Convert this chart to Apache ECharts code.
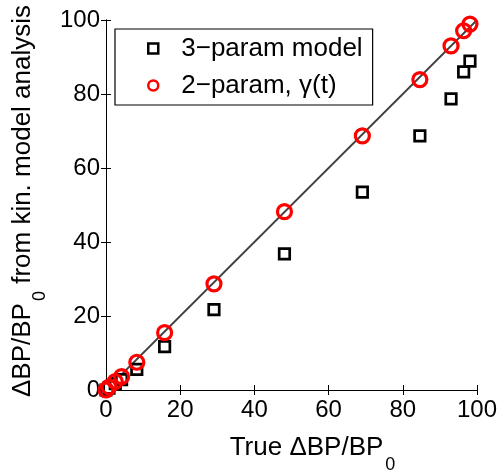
<!DOCTYPE html>
<html><head><meta charset="utf-8">
<script src="https://cdn.jsdelivr.net/npm/echarts@6/dist/echarts.min.js"></script>
<style>html,body{margin:0;padding:0;background:#fff}#c{width:500px;height:473px}</style>
</head><body><div id="c"></div>
<script>
const trueVals   = [0, 0.8, 2.5, 4.2, 8.3, 15.8, 29.1, 48.1, 69.1, 84.6, 93.0, 96.4, 98.1];
const threeParam = [0, 0.5, 1.7, 2.8, 5.6, 11.7, 21.7, 36.8, 53.5, 68.7, 78.7, 86.0, 88.9];
const twoParam   = [0, 0.8, 2.3, 3.6, 7.5, 15.5, 28.7, 48.2, 68.7, 83.9, 93.0, 97.1, 98.9];
const identityX  = [0, 100];
const identityY  = [0, 100];
const seriesNames = ['3\u2212param model', '2\u2212param, \u03b3(t)'];

const FONT = '"Liberation Sans", Arial, Helvetica, sans-serif';
const chart = echarts.init(document.getElementById('c'), null, {renderer: 'canvas'});
const pair = (xs, ys) => xs.map((x, i) => [x, ys[i]]);

const axisCommon = {
  min: 0, max: 100, interval: 20,
  axisLine: {show: true, lineStyle: {color: '#000', width: 1}},
  axisTick: {show: true, inside: true, length: 5, lineStyle: {color: '#000', width: 1}},
  splitLine: {show: false}
};
const labelStyle = {color: '#000', fontSize: 24, fontFamily: FONT};
const nameRich = {
  m: {fontSize: 26, fontFamily: FONT, color: '#000', lineHeight: 28, verticalAlign: 'top'},
  s: {fontSize: 18, fontFamily: FONT, color: '#000', lineHeight: 18, padding: [21, 0, 0, 2], verticalAlign: 'top'}
};

chart.setOption({
  animation: false,
  backgroundColor: '#fff',
  grid: {left: 106, right: 23, top: 20, bottom: 83, containLabel: false, outerBoundsMode: 'none'},
  xAxis: [
    Object.assign({}, axisCommon, {
      type: 'value', position: 'bottom',
      axisLabel: Object.assign({}, labelStyle, {margin: 8}),
      name: '{m|True \u0394BP/BP}{s|0}',
      nameLocation: 'middle', nameGap: 45,
      nameTextStyle: {padding: [0, 0, 0, 42], rich: nameRich}
    }),
    Object.assign({}, axisCommon, {type: 'value', position: 'top', axisLabel: {show: false}})
  ],
  yAxis: [
    Object.assign({}, axisCommon, {
      type: 'value', position: 'left',
      axisLabel: Object.assign({}, labelStyle, {margin: 6}),
      name: '{m|\u0394BP/BP}{s|0}{m| from kin. model analysis}',
      nameLocation: 'middle', nameGap: 63, nameRotate: 90,
      nameTextStyle: {padding: [0, 0, 0, 8], rich: nameRich}
    }),
    Object.assign({}, axisCommon, {type: 'value', position: 'right', axisLabel: {show: false}})
  ],
  legend: {
    orient: 'vertical', left: 115, top: 29,
    padding: [6, 10, 6, 32],
    itemGap: 10,
    itemWidth: 10, itemHeight: 10,
    borderColor: '#000', borderWidth: 1.2, borderRadius: 0,
    backgroundColor: '#fff',
    textStyle: {color: '#000', fontSize: 26, fontFamily: FONT, lineHeight: 27, padding: [0, 0, 0, 18]},
    data: [
      {name: seriesNames[0], icon: 'rect', itemStyle: {color: '#fff', borderColor: '#000', borderWidth: 2.5}},
      {name: seriesNames[1], icon: 'circle', itemStyle: {color: '#fff', borderColor: '#ff0000', borderWidth: 2.5}}
    ]
  },
  series: [
    {
      type: 'line', name: 'identity', data: pair(identityX, identityY),
      symbol: 'none', lineStyle: {color: '#404040', width: 1.8}, z: 1, silent: true
    },
    {
      type: 'scatter', name: seriesNames[0], data: pair(trueVals, threeParam),
      symbol: 'rect', symbolSize: 10.5, clip: false, z: 3,
      itemStyle: {color: '#fff', borderColor: '#000', borderWidth: 2.7, opacity: 1}
    },
    {
      type: 'scatter', name: seriesNames[1], data: pair(trueVals, twoParam),
      symbol: 'circle', symbolSize: 14, clip: false, z: 4,
      itemStyle: {color: 'rgba(255,255,255,0)', borderColor: '#ff0000', borderWidth: 3.2, opacity: 1}
    }
  ]
});
</script>
</body></html>
